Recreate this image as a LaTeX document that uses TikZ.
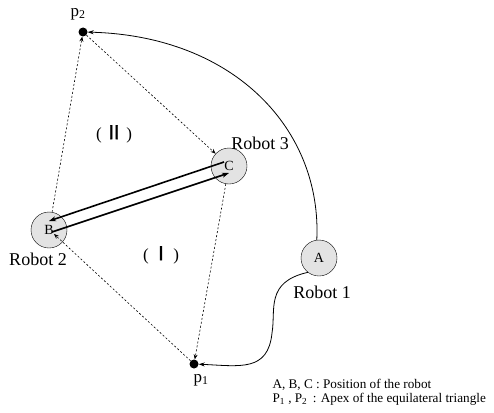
\documentclass[tikz,border=0pt]{standalone}
\usepackage{fontspec}
\setmainfont{Liberation Serif}
\newfontfamily\cjk[FakeBold=1.8]{Noto Sans CJK JP}
\usetikzlibrary{arrows.meta, calc, positioning}

\begin{document}
\begin{tikzpicture}[x=1pt, y=-1pt, >=Stealth,
    robot/.style={circle, draw, fill=gray!22, minimum size=36pt, inner sep=0pt, font=\fontsize{14}{14}\selectfont},
    apex/.style={circle, fill=black, minimum size=9pt, inner sep=0pt},
    tri/.style={->, dash pattern=on 2pt off 2pt, line width=0.6pt, >={Stealth[length=5pt, width=4pt]}},
    move/.style={->, line width=1.6pt, >={Stealth[length=7pt, width=5pt]}},
    path/.style={->, line width=0.8pt, >={Stealth[length=6pt, width=4pt]}},
    lbl/.style={font=\fontsize{18}{18}\selectfont},
    region/.style={font=\fontsize{17}{17}\selectfont},
    note/.style={anchor=west, font=\fontsize{13.2}{14}\selectfont}]
    \useasboundingbox (0,0) rectangle (494,412);
    % robots and apexes
    \node[robot] (A) at (319,258) {A};
    \node[robot] (B) at (49,230) {B};
    \node[robot] (C) at (229,166) {C};
    \node[apex] (p2) at (83,32) {};
    \node[apex] (p1) at (194,364) {};
    % labels
    \node[lbl] (rA) at (322,292) {Robot 1};
    \node[lbl] (rB) at (38,259) {Robot 2};
    \node[lbl] (rC) at (260,143) {Robot 3};
    \node[font=\fontsize{17}{17}\selectfont] (lp2) at (78,14) {p\textsubscript{2}};
    \node[font=\fontsize{17}{17}\selectfont] (lp1) at (201,380) {p\textsubscript{1}};
    \node[region] (reg2) at (114,134) {(\,{\cjk\fontsize{19}{19}\selectfont Ⅱ}\,)};
    \node[region] (reg1) at (161,255) {(\,{\cjk\fontsize{19}{19}\selectfont Ⅰ}\,)};
    % equilateral triangles
    \draw[tri] (B) -- (p2);
    \draw[tri] (p2) -- (C);
    \draw[tri] (C) -- (p1);
    \coordinate (bin) at (54,234);
    \draw[tri] (p1) -- (bin);
    % exchange between B and C
    \coordinate (c1) at (224,162);
    \coordinate (b1) at (49,221);
    \coordinate (b2) at (52,232);
    \coordinate (c2) at (229,173);
    \draw[move] (c1) -- (b1);
    \draw[move] (b2) -- (c2);
    % paths of robot 1
    \draw[path] (A.97) .. controls (322,130) and (235,36) .. (p2);
    \draw[path] (A.232) .. controls (265,282) and (276,310) .. (272,333)
        .. controls (268,372) and (240,366) .. (p1);
    % legend
    \node[note] (n1) at (269,385) {A, B, C : Position of the robot};
    \node[note] (n2) at (269,399) {P\textsubscript{1} , P\textsubscript{2} \,: Apex of the equilateral triangle};
\end{tikzpicture}
\end{document}
